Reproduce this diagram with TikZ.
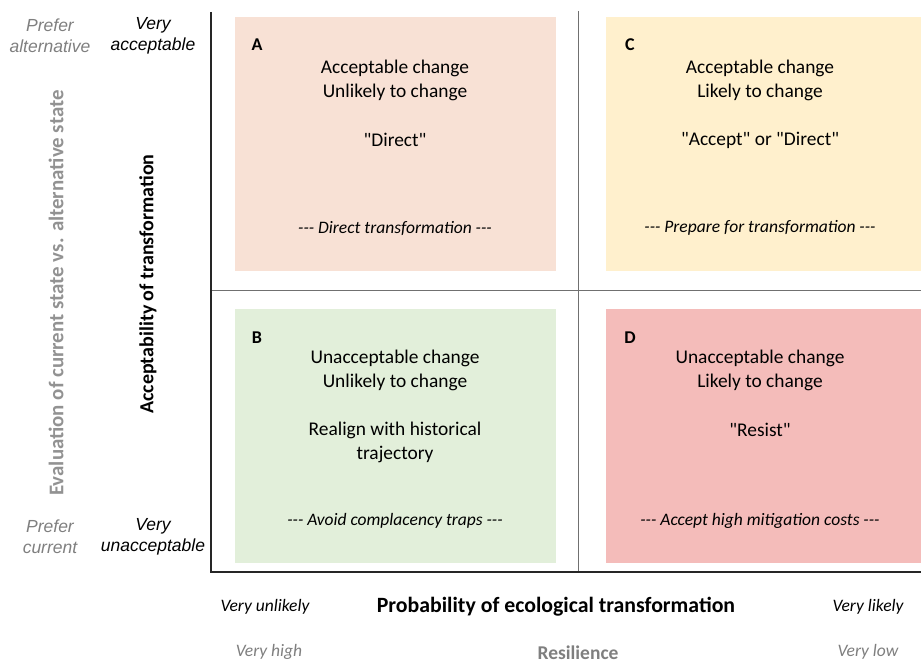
\documentclass[tikz,border=0pt]{standalone}
\usepackage{fontspec}
\setmainfont{Carlito}
\newfontfamily\calibri{Carlito}
\newfontfamily\arialfont{Liberation Sans}
\usetikzlibrary{positioning}
\definecolor{fillA}{HTML}{F8E1D5}
\definecolor{fillB}{HTML}{E2EFDA}
\definecolor{fillC}{HTML}{FFF0CD}
\definecolor{fillD}{HTML}{F4BCBA}
\definecolor{labelgray}{HTML}{7F7F7F}
\definecolor{divgray}{HTML}{707070}

\begin{document}
\begin{tikzpicture}[x=1pt,y=-1pt,
    quad/.style={fill=#1, inner sep=0pt, anchor=north west, minimum height=254pt},
    body/.style={font=\calibri\fontsize{19.4}{24}\selectfont, align=center, inner sep=0pt},
    motto/.style={font=\calibri\fontsize{17.5}{21}\selectfont\itshape, inner sep=0pt},
    letter/.style={font=\calibri\fontsize{18}{21}\selectfont\bfseries, inner sep=0pt},
    sidelab/.style={font=\arialfont\itshape\fontsize{17.5}{21}\selectfont, align=center, inner sep=0pt},
    botlab/.style={font=\calibri\fontsize{17.5}{21}\selectfont\itshape, inner sep=0pt},
    axtitle/.style={font=\calibri\fontsize{#1}{23}\selectfont\bfseries, inner sep=0pt}]
  \useasboundingbox (0,0) rectangle (921,663);

  % quadrant backgrounds
  \node[quad=fillA, minimum width=321pt] (boxA) at (235,17) {};
  \node[quad=fillC, minimum width=315pt] (boxC) at (606,17) {};
  \node[quad=fillB, minimum width=321pt] (boxB) at (235,309) {};
  \node[quad=fillD, minimum width=315pt] (boxD) at (606,309) {};

  % axes and dividers
  \coordinate (origin) at (211,572);
  \coordinate (ytop) at (211,12);
  \coordinate (xend) at (921,572);
  \coordinate (midtop) at (578.5,11);
  \coordinate (midbot) at (578.5,572);
  \coordinate (midleft) at (211,290.5);
  \coordinate (midright) at (921,290.5);
  \draw[color=divgray, line width=1.2pt] (midtop) -- (midbot);
  \draw[color=divgray, line width=1.2pt] (midleft) -- (midright);
  \draw[color=black!85, line width=2pt] (ytop) -- (origin) -- (xend);

  % quadrant A
  \node[letter] (letA) at (257,45) {A};
  \node[body] (headA) at (395,80) {Acceptable change\\Unlikely to change};
  \node[body] (quoteA) at (395,140) {"Direct"};
  \node[motto] (mottoA) at (395,228) {--- Direct transformation ---};
  % quadrant C
  \node[letter] (letC) at (630,45) {C};
  \node[body] (headC) at (760,80) {Acceptable change\\Likely to change};
  \node[body] (quoteC) at (760,140) {"Accept" or "Direct"};
  \node[motto] (mottoC) at (760,228) {--- Prepare for transformation ---};
  % quadrant B
  \node[letter] (letB) at (257,338) {B};
  \node[body] (headB) at (395,370) {Unacceptable change\\Unlikely to change};
  \node[body] (quoteB) at (395,442) {Realign with historical\\trajectory};
  \node[motto] (mottoB) at (395,521) {--- Avoid complacency traps ---};
  % quadrant D
  \node[letter] (letD) at (630,338) {D};
  \node[body] (headD) at (760,370) {Unacceptable change\\Likely to change};
  \node[body] (quoteD) at (760,430) {"Resist"};
  \node[motto] (mottoD) at (760,521) {--- Accept high mitigation costs ---};

  % vertical axis labels
  \node[sidelab, color=labelgray] (preferalt) at (50,36) {Prefer\\alternative};
  \node[sidelab] (veryacc) at (153,36) {Very\\acceptable};
  \node[sidelab, color=labelgray] (prefercur) at (50,537) {Prefer\\current};
  \node[sidelab] (veryunacc) at (153,537) {Very\\unacceptable};
  \node[axtitle=20.9, color=labelgray!85, rotate=90] (evaltitle) at (56,293) {Evaluation of current state vs. alternative state};
  \node[axtitle=20, rotate=90] (acctitle) at (148,284) {Acceptability of transformation};

  % horizontal axis labels
  \node[botlab] (vunlikely) at (265,607) {Very unlikely};
  \node[axtitle=21.8] (probtitle) at (556,607) {Probability of ecological transformation};
  \node[botlab] (vlikely) at (868,607) {Very likely};
  \node[botlab, color=labelgray] (vhigh) at (269,652) {Very high};
  \node[axtitle=19.5, color=labelgray] (restitle) at (578,653) {Resilience};
  \node[botlab, color=labelgray] (vlow) at (868,652) {Very low};
\end{tikzpicture}
\end{document}
